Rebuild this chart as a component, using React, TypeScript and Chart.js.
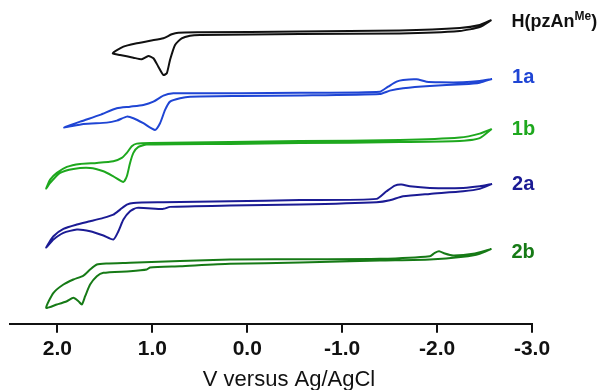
import React, { useEffect, useRef } from "react";
import { Chart, registerables } from "chart.js";

Chart.register(...registerables);

// Cyclic voltammograms (potential in V vs Ag/AgCl, current in arbitrary offset units)
const hV = [-2.573,-2.449,-2.239,-1.607,-0.555,0.498,0.726,0.796,0.884,1.024,1.164,1.305,1.417,1.340,1.200,1.112,1.042,0.989,0.937,0.884,0.848,0.814,0.761,0.691,0.603,0.498,-0.555,-1.607,-2.239,-2.449,-2.573];
const hI = [304,299,296,293.5,292.5,291.7,291.3,289.7,285.7,283.3,280.7,277.3,270.7,269,266.3,264.7,268,265.7,257.3,249,250.7,264,279,285.7,288.3,289,290,290.5,293,297,304];

const aV = [-2.579,-2.449,-2.274,-2.028,-1.888,-1.783,-1.642,-1.573,-1.484,-1.397,-0.555,0.077,0.603,0.779,0.884,0.989,1.095,1.235,1.375,1.551,1.761,1.929,1.726,1.480,1.375,1.269,1.2,1.095,0.972,0.919,0.866,0.814,0.708,0.603,0.077,-0.555,-1.397,-1.502,-1.642,-1.923,-2.274,-2.449,-2.579];
const aI = [245,243,241.7,241.7,242.3,244.7,244,242.3,237.3,232.3,231.2,230.7,230.7,230.7,228.3,222.3,219,217.3,215.7,209,202.3,196.3,200,201.3,203.3,207.3,205.7,200.7,194,200.7,214,222.3,225.7,227.3,228,228.5,230,233.3,235.7,238,239.7,241.3,245];

const bV = [-2.576,-2.449,-2.239,-1.607,-0.555,0.182,1.024,1.164,1.217,1.269,1.322,1.411,1.585,1.761,1.901,2.006,2.077,2.119,2.077,1.972,1.832,1.656,1.516,1.411,1.305,1.269,1.235,1.2,1.147,1.059,0.182,-0.555,-1.607,-2.239,-2.449,-2.576];
const bI = [195,190.3,186.3,183.8,182.8,182,181,180.3,177.6,171,166,162.6,161,160,157,151,144.3,135.3,141,151,155,156,152.6,147.6,142,147.6,161,171,177,179.3,180,180.8,181.8,182.8,185.8,195];

const cV = [-2.579,-2.449,-2.274,-1.923,-1.713,-1.625,-1.555,-1.467,-1.362,-0.555,0.182,0.884,1.2,1.269,1.34,1.411,1.516,1.656,1.796,1.937,2.042,2.119,2.042,1.937,1.796,1.656,1.516,1.411,1.358,1.305,1.235,1.164,0.884,0.814,0.182,-0.555,-1.362,-1.502,-1.642,-1.923,-2.274,-2.449,-2.579];
const cI = [140,137.6,136,136,137.6,139.3,138.3,132.6,125,123.8,122.6,121.6,121,119.3,114.3,109.3,106,102.6,99.3,95,87.6,76.3,84.3,91,94.3,92.6,88.3,84.3,92.6,104.3,112.6,116,115,117,118.3,119.3,121.6,123.6,127.6,130,132.6,135,140];

const dV = [-2.573,-2.379,-2.168,-2.081,-2.021,-1.976,-1.923,-1.397,-0.555,0.182,1.235,1.48,1.585,1.656,1.726,1.832,1.937,2.042,2.119,2.006,1.901,1.832,1.779,1.743,1.708,1.656,1.585,1.516,1.235,1.059,1.024,0.708,0.182,-0.555,-1.397,-1.923,-2.274,-2.449,-2.573];
const dI = [75,70,68.3,70.3,72.6,71,67.6,65,64.5,64.3,61,60.3,59.3,54.3,48.3,44.3,39.3,31,16,19.3,22.6,26,22.6,19.3,27.6,39.3,47.6,51,52.6,54.3,56.3,57.6,60,61.3,63.3,64.3,67,70,75];

const seriesLabels = ["H(pzAn^Me)", "1a", "1b", "2a", "2b"];
const seriesColors = ["#111111", "#1f45d4", "#1ea81e", "#1b1b94", "#167a16"];
const xTickValues = [2, 1, 0, -1, -2, -3];
const xTitle = "V versus Ag/AgCl";

const pts = (v: number[], i: number[]) => v.map((x, k) => ({ x, y: i[k] }));

const labelPlugin = {
  id: "cvLabels",
  afterDraw(chart: any) {
    const { ctx, scales } = chart;
    const x = scales.x;
    const y = scales.y;
    const nudge = [2, -1, 1, 1, 4];
    ctx.save();
    chart.data.datasets.forEach((ds: any, i: number) => {
      const last = ds.data[ds.data.length - 1];
      const px = x.getPixelForValue(last.x) + 20;
      const py = y.getPixelForValue(last.y) + nudge[i];
      ctx.fillStyle = ds.borderColor;
      ctx.textAlign = "left";
      ctx.textBaseline = "middle";
      const m = /^(.*)\^(\w+)\)$/.exec(ds.label);
      if (m) {
        ctx.font = "bold 18px 'Liberation Sans', Arial, sans-serif";
        ctx.fillText(m[1], px, py);
        let w = ctx.measureText(m[1]).width;
        ctx.font = "bold 12px 'Liberation Sans', Arial, sans-serif";
        ctx.fillText(m[2], px + w, py - 5);
        w += ctx.measureText(m[2]).width;
        ctx.font = "bold 18px 'Liberation Sans', Arial, sans-serif";
        ctx.fillText(")", px + w, py);
      } else {
        ctx.font = "bold 20px 'Liberation Sans', Arial, sans-serif";
        ctx.fillText(ds.label, px, py);
      }
    });
    ctx.fillStyle = "#111";
    ctx.font = "22px 'Liberation Sans', Arial, sans-serif";
    ctx.textAlign = "center";
    ctx.textBaseline = "alphabetic";
    ctx.fillText(xTitle, x.getPixelForValue(-0.44), 386);
    ctx.restore();
  },
};

export default function App() {
  const ref = useRef<HTMLCanvasElement | null>(null);
  useEffect(() => {
    document.body.style.margin = "0";
    const series = [pts(hV, hI), pts(aV, aI), pts(bV, bI), pts(cV, cI), pts(dV, dI)];
    const chart = new Chart(ref.current as HTMLCanvasElement, {
      type: "scatter",
      data: {
        datasets: series.map((d, i) => ({
          label: seriesLabels[i],
          data: d,
          showLine: true,
          borderColor: seriesColors[i],
          backgroundColor: seriesColors[i],
          borderWidth: 2,
          pointRadius: 0,
          tension: 0.2,
          fill: false,
        })),
      },
      options: {
        animation: false,
        responsive: false,
        devicePixelRatio: 1,
        layout: { padding: { left: 10, right: 69, top: 10, bottom: 24 } },
        plugins: { legend: { display: false }, tooltip: { enabled: false } },
        scales: {
          x: {
            type: "linear",
            min: -3,
            max: 2.5,
            reverse: true,
            afterBuildTicks: (s: any) => {
              s.ticks = xTickValues.map((v) => ({ value: v }));
            },
            ticks: {
              color: "#111",
              padding: 4,
              maxRotation: 0,
              autoSkip: false,
              font: { family: "'Liberation Sans', Arial, sans-serif", size: 21, weight: "bold" },
              callback: (v: any) => Number(v).toFixed(1),
            },
            grid: { drawOnChartArea: false, drawTicks: true, tickLength: 9, color: "#111", lineWidth: 2 },
            border: { display: true, color: "#111", width: 2 },
          },
          y: { type: "linear", min: 0, max: 314, display: false },
        },
      },
      plugins: [labelPlugin],
    } as any);
    return () => chart.destroy();
  }, []);
  return <canvas ref={ref} width={601} height={390} style={{ display: "block" }} />;
}
